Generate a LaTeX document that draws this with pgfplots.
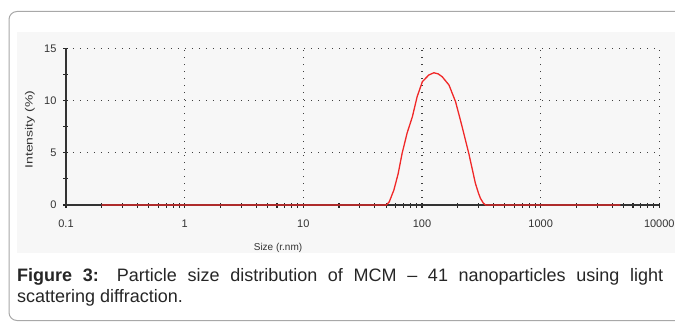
\documentclass[border=0pt]{standalone}
\usepackage{pgfplots}
\pgfplotsset{compat=1.18}
\usepackage{fontspec}
\setmainfont{Liberation Sans}
\usepackage{graphicx}
\definecolor{txt}{HTML}{333333}
\definecolor{capt}{HTML}{262626}
\definecolor{bg}{HTML}{F7F7F7}
\definecolor{frame}{HTML}{A8A8A8}
\definecolor{gridc}{HTML}{404040}
\definecolor{curve}{HTML}{F02828}
\begin{document}
\begin{tikzpicture}[x=1pt,y=1pt]
% frame and background (pixel coords: y' = 322 - y)
\begin{scope}
\clip (0,0) rectangle (675,322);
\fill[bg] (17,69) rectangle (675,290);
\draw[frame, line width=1pt, rounded corners=8pt] (9,1.5) rectangle (700,310.5);
\end{scope}
\begin{axis}[
  at={(66pt,117pt)}, anchor=south west,
  scale only axis, width=593.3pt, height=156.7pt,
  xmode=log, xmin=0.1, xmax=10000, ymin=0, ymax=15,
  axis x line*=bottom, axis y line*=left,
  axis line style={txt, line width=1.2pt, -},
  xtick={0.1,1,10,100,1000,10000},
  xticklabels={0.1,1,10,100,1000,10000},
  minor xtick={0.2,0.3,0.4,0.5,0.6,0.7,0.8,0.9,2,3,4,5,6,7,8,9,20,30,40,50,60,70,80,90,200,300,400,500,600,700,800,900,2000,3000,4000,5000,6000,7000,8000,9000},
  ytick={0,5,10,15}, yticklabels={0,5,10,15},
  minor ytick={2.5,7.5,12.5},
  tick align=center, major tick length=5pt, minor tick length=5pt,
  every tick/.style={black!85, line width=1.1pt},
  grid=major,
  major grid style={gridc, line width=1.3pt, dash pattern=on 1.2pt off 5.8pt},
  tick label style={font=\fontsize{11}{13}\selectfont, text=txt},
  xticklabel style={yshift=-9pt},
  yticklabel style={xshift=-3.5pt},
]
\addplot[curve, line width=1.3pt] coordinates {
(0.2,0) (50,0) (53,0.3) (58,1.44) (63,3.0) (68,4.94) (75,6.9) (83,8.45)
(91,10.36) (100.7,11.8) (114,12.44) (126,12.66) (137,12.55) (148,12.28)
(169,11.48) (192,9.88) (218,7.49) (248,4.94) (282,2.07) (300,1.1) (311,0.64)
(328,0.2) (343,0) (4700,0)
};
\end{axis}
\node[rotate=90, text=txt, inner sep=0] at (30,192.5) {\scalebox{1.33}[1]{\fontsize{10.5}{12}\selectfont Intensity (\%)}};
\node[text=txt, inner sep=0, font=\fontsize{10}{12}\selectfont] at (278,74.5) {Size (r.nm)};
\node[anchor=base west, inner sep=0, text width=646pt, align=justify, text=capt, font=\fontsize{18}{21}\selectfont] at (17,40.3)
{\textbf{Figure 3:} Particle size distribution of MCM -- 41 nanoparticles using light\linebreak scattering diffraction.};
\pgfresetboundingbox
\useasboundingbox (0,0) rectangle (675,322);
\end{tikzpicture}
\end{document}
